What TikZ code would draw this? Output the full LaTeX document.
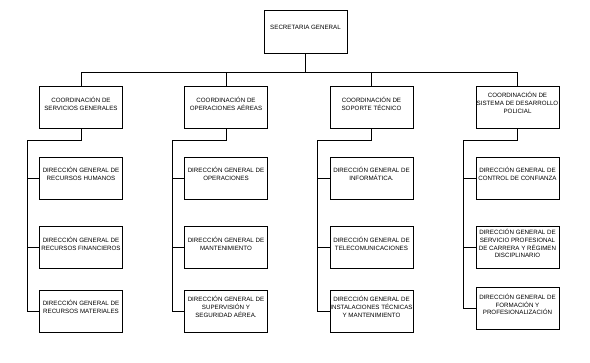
\documentclass[tikz,border=0pt]{standalone}
\usepackage{fontspec}
\setmainfont{Liberation Sans}

\begin{document}
\begin{tikzpicture}[x=1pt, y=-1pt,
    box/.style={rectangle, draw, line width=0.8pt, minimum width=83pt,
                minimum height=42pt, inner sep=0pt},
    txt/.style={font=\fontsize{6.2}{7.7}\selectfont, align=center,
                inner sep=0pt, yshift=4pt},
    link/.style={line width=0.7pt},
]
\useasboundingbox (0,0) rectangle (590,363);

% Secretaria (top)
\node[box, minimum height=43pt, label={[txt]center:SECRETARIA GENERAL}] (sg) at (305.5,31.5) {};

% Coordinaciones
\node[box, label={[txt]center:COORDINACIÓN DE\\SERVICIOS GENERALES}] (c1) at (81,107.5) {};
\node[box, label={[txt]center:COORDINACIÓN DE\\OPERACIONES AÉREAS}] (c2) at (226,107.5) {};
\node[box, label={[txt]center:COORDINACIÓN DE\\SOPORTE TÉCNICO}] (c3) at (371.5,107.5) {};
\node[box, label={[txt]center:COORDINACIÓN DE\\SISTEMA DE DESARROLLO\\POLICIAL}] (c4) at (517.5,107) {};

% Direcciones, column 1
\node[box, label={[txt]center:DIRECCIÓN GENERAL DE\\RECURSOS HUMANOS}] (d11) at (81,178) {};
\node[box, label={[txt]center:DIRECCIÓN GENERAL DE\\RECURSOS FINANCIEROS}] (d12) at (81,247.5) {};
\node[box, label={[txt]center:DIRECCIÓN GENERAL DE\\RECURSOS MATERIALES}] (d13) at (81,311) {};

% Direcciones, column 2
\node[box, label={[txt]center:DIRECCIÓN GENERAL DE\\OPERACIONES}] (d21) at (226,178) {};
\node[box, label={[txt]center:DIRECCIÓN GENERAL DE\\MANTENIMIENTO}] (d22) at (226,247.5) {};
\node[box, label={[txt]center:DIRECCIÓN GENERAL DE\\SUPERVISIÓN Y\\SEGURIDAD AÉREA.}] (d23) at (226,311) {};

% Direcciones, column 3
\node[box, label={[txt]center:DIRECCIÓN GENERAL DE\\INFORMÁTICA.}] (d31) at (371.5,178) {};
\node[box, label={[txt]center:DIRECCIÓN GENERAL DE\\TELECOMUNICACIONES}] (d32) at (371.5,247.5) {};
\node[box, label={[txt]center:DIRECCIÓN GENERAL DE\\INSTALACIONES TÉCNICAS\\Y MANTENIMIENTO}] (d33) at (371.5,311) {};

% Direcciones, column 4
\node[box, label={[txt]center:DIRECCIÓN GENERAL DE\\CONTROL DE CONFIANZA}] (d41) at (517.5,178) {};
\node[box, label={[txt]center:DIRECCIÓN GENERAL DE\\SERVICIO PROFESIONAL\\DE CARRERA Y RÉGIMEN\\DISCIPLINARIO}] (d42) at (517.5,247.5) {};
\node[box, label={[txt]center:DIRECCIÓN GENERAL DE\\FORMACIÓN Y\\PROFESIONALIZACIÓN}] (d43) at (517.5,308.5) {};

% Bar under the Secretaria
\coordinate (bar) at (0,72);
\draw[link] (sg.south) -- (sg.south |- bar);
\draw[link] (c1.north) -- (c1.north |- bar) -- (c4.north |- bar) -- (c4.north);
\draw[link] (c2.north) -- (c2.north |- bar);
\draw[link] (c3.north) -- (c3.north |- bar);

% Spines
\coordinate (k1) at (27,140);
\coordinate (k2) at (172,140);
\coordinate (k3) at (317,140);
\coordinate (k4) at (463,140);
\draw[link] (c1.south) |- (k1) |- (d13.west);
\draw[link] (c2.south) |- (k2) |- (d23.west);
\draw[link] (c3.south) |- (k3) |- (d33.west);
\draw[link] (c4.south) |- (k4) |- (d43.west);

% Branches
\draw[link] (k1 |- d11.west) -- (d11.west);
\draw[link] (k1 |- d12.west) -- (d12.west);
\draw[link] (k2 |- d21.west) -- (d21.west);
\draw[link] (k2 |- d22.west) -- (d22.west);
\draw[link] (k3 |- d31.west) -- (d31.west);
\draw[link] (k3 |- d32.west) -- (d32.west);
\draw[link] (k4 |- d41.west) -- (d41.west);
\draw[link] (k4 |- d42.west) -- (d42.west);

\end{tikzpicture}
\end{document}
